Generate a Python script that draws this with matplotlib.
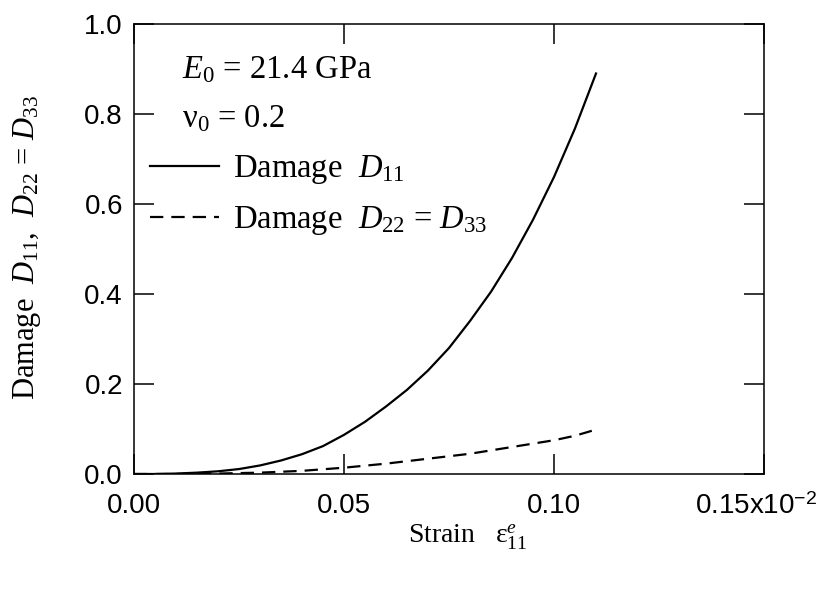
import matplotlib
matplotlib.use("Agg")
import matplotlib.pyplot as plt
from matplotlib.transforms import ScaledTranslation

# strain in units of 1e-2 (as on the axis)
strain_d11 = [0.000, 0.005, 0.010, 0.015, 0.020, 0.025, 0.030, 0.035, 0.040,
              0.045, 0.050, 0.055, 0.060, 0.065, 0.070, 0.075, 0.080, 0.085,
              0.090, 0.095, 0.100, 0.105, 0.110]
d11 = [0.000, 0.000, 0.001, 0.003, 0.006, 0.011, 0.019, 0.030, 0.044,
       0.062, 0.087, 0.116, 0.150, 0.187, 0.230, 0.280, 0.340, 0.405,
       0.480, 0.565, 0.660, 0.768, 0.890]

strain_d22 = [0.000, 0.010, 0.020, 0.030, 0.040, 0.050, 0.060, 0.070,
              0.080, 0.090, 0.100, 0.105, 0.109]
d22 = [0.000, 0.000, 0.001, 0.003, 0.007, 0.014, 0.023, 0.034,
       0.045, 0.060, 0.075, 0.085, 0.096]

xticks = [0.00, 0.05, 0.10, 0.15]
xtick_labels = ["0.00", "0.05", "0.10", r"0.15x10$^{\mathsf{-2}}$"]
yticks = [0.0, 0.2, 0.4, 0.6, 0.8, 1.0]

plt.rcParams["mathtext.fontset"] = "custom"
plt.rcParams["mathtext.rm"] = "Liberation Serif"
plt.rcParams["mathtext.it"] = "Liberation Serif:italic"
plt.rcParams["mathtext.sf"] = "Liberation Sans"

serif = {"family": "Liberation Serif", "size": 23.5}

fig = plt.figure(figsize=(8.24, 5.92), dpi=100)
ax = fig.add_axes([134 / 824, 1 - 474 / 592, 630 / 824, 450 / 592])

ax.plot(strain_d11, d11, color="black", lw=1.6, label=r"Damage  $D_{11}$")
ax.plot(strain_d22, d22, color="black", lw=1.6, dashes=(6, 3.6),
        label=r"Damage  $D_{22}$ = $D_{33}$")

ax.set_xlim(0, 0.15)
ax.set_ylim(0, 1.0)
ax.set_xticks(xticks)
ax.set_xticklabels(xtick_labels)
ax.set_yticks(yticks)
ax.set_yticklabels(["%.1f" % v for v in yticks])

for s in ax.spines.values():
    s.set_linewidth(1.1)
ax.tick_params(direction="in", top=True, right=True, length=14.4, width=1.1,
               labelsize=20)
ax.tick_params(axis="x", pad=14)
ax.tick_params(axis="y", pad=8)
for lab in ax.get_xticklabels() + ax.get_yticklabels():
    lab.set_fontfamily("Liberation Sans")

# last x label sits a bit left of its tick, as in the original
last = ax.get_xticklabels()[-1]
last.set_transform(last.get_transform() + ScaledTranslation(-6 / 72, 0, fig.dpi_scale_trans))

fig.text(0.568, 1 - 543 / 592, r"Strain   $\mathrm{ε}^{e}_{11}$",
         ha="center", va="baseline", family="Liberation Serif", size=20)
fig.text(27 / 824, 1 - 248 / 592, r"Damage  $D_{11}$,  $D_{22}$ = $D_{33}$",
         rotation=90, ha="center", va="center", family="Liberation Serif", size=22)

fig.text(182 / 824, 1 - 78 / 592, r"$E_0$ = 21.4 GPa", va="baseline", fontdict=serif)
fig.text(182 / 824, 1 - 127 / 592, r"ν$_0$ = 0.2", va="baseline", fontdict=serif)

ax.legend(loc="upper left", bbox_to_anchor=(150 / 824, 1 - 153 / 592),
          bbox_transform=fig.transFigure, frameon=False, prop=serif,
          handlelength=2.1, handletextpad=0.45, labelspacing=0.55,
          borderpad=0, borderaxespad=0)

fig.savefig("out.png", dpi=100)
